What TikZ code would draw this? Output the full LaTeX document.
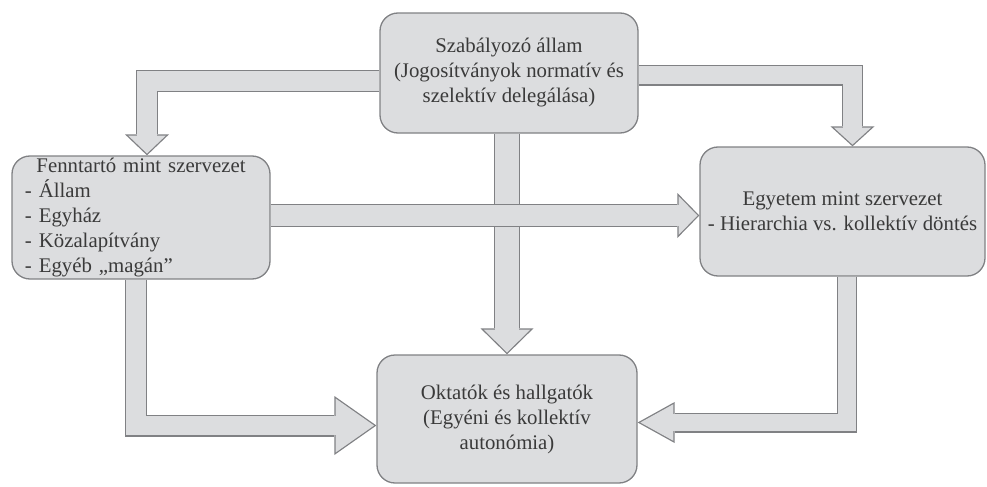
\documentclass[tikz,border=0pt]{standalone}
\usepackage{fontspec}
\setmainfont{Liberation Serif}
\usepackage{tikz}
\usetikzlibrary{arrows.meta}
\usepackage{xcolor}

\definecolor{boxgray}{HTML}{DCDDDF}
\definecolor{edgegray}{HTML}{808184}
\definecolor{textgray}{HTML}{3A3A3A}

% fat block arrow: #1 shaft, #2 head length, #3 head width (pt), #4 path
\newcommand{\fatarrow}[4]{%
  \pgfmathsetmacro\tipin{0.65/sin(atan(#3/(2*#2)))}%
  \pgfmathsetmacro\innerlen{#2-\tipin-0.65}%
  \pgfmathsetmacro\innerwid{#3*\innerlen/#2}%
  \pgfmathsetmacro\innershaft{#1-1.3}%
  \draw[fatedge, line width=#1pt, -{Triangle[line width=0pt, length=#2pt, width=#3pt]}] #4;
  \draw[fatfill, line width=\innershaft pt, shorten >=\tipin pt,
        -{Triangle[line width=0pt, length=\innerlen pt, width=\innerwid pt]}] #4;
}

\begin{document}
\begin{tikzpicture}[
        x=0.5pt, y=-0.5pt,
        box/.style={draw=edgegray, fill=boxgray, line width=0.65pt, rounded corners=9pt,
            align=center, inner sep=0pt, text=textgray,
            font=\fontsize{10.4}{12.5}\selectfont},
        fatedge/.style={draw=edgegray, line join=miter},
        fatfill/.style={draw=boxgray, line join=miter}
    ]
    \useasboundingbox (0,0) rectangle (987,487);
    \node[box, minimum width=129pt, minimum height=60pt] (state) at (509,73)
        {Szabályozó állam\\(Jogosítványok normatív és\\szelektív delegálása)};
    \node[box, minimum width=129pt, minimum height=61.5pt, text width=116pt, align=left] (fenn) at (141,217.5)
        {\makebox[116pt]{Fenntartó mint szervezet}\\- Állam\\- Egyház\\- Közalapítvány\\- Egyéb „magán”};
    \node[box, minimum width=142.5pt, minimum height=64.5pt] (egy) at (842.5,211.5)
        {Egyetem mint szervezet\\- Hierarchia vs. kollektív döntés};
    \node[box, minimum width=130pt, minimum height=64pt] (okt) at (507,419)
        {Oktatók és hallgatók\\(Egyéni és kollektív\\autonómia)};
    \fatarrow{11}{10.5}{22}{([yshift=-4pt]state.west) -| ([xshift=3pt]fenn.north)}
    \fatarrow{10.5}{10}{22}{([yshift=-1pt]state.east) -| ([xshift=5pt]egy.north)}
    \fatarrow{13}{13}{26.5}{(okt.north |- state.south) -- (okt.north)}
    \fatarrow{11.5}{11}{22.5}{([yshift=1pt]fenn.east) -- ([yshift=1pt]fenn.east -| egy.west)}
    \fatarrow{11}{21}{29.5}{([xshift=-2.5pt]fenn.south) |- ([yshift=-3.25pt]okt.west)}
    \fatarrow{10}{18.5}{20.5}{([xshift=2.25pt]egy.south) |- ([yshift=-1.75pt]okt.east)}
\end{tikzpicture}
\end{document}
